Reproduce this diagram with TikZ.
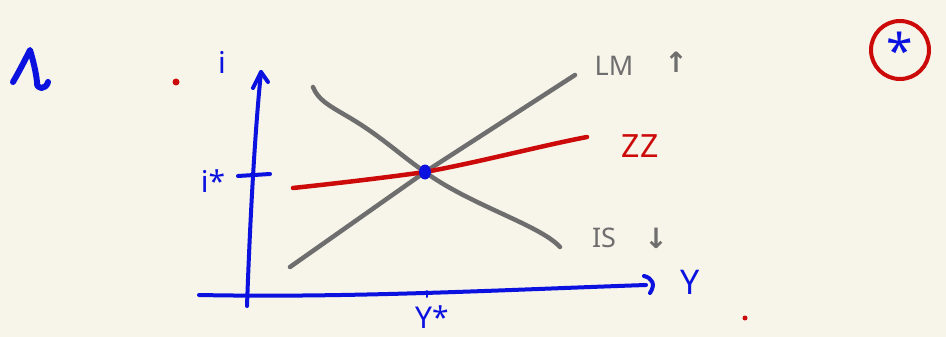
\documentclass[tikz,border=0pt]{standalone}
\usepackage{fontspec}
\setmainfont{Noto Sans}
\newfontfamily\symfont{DejaVu Sans}
\begin{document}
\begin{tikzpicture}[x=1pt,y=-1pt,line cap=round,line join=round,
  bluepen/.style={draw=penblue,line width=4pt},
  graypen/.style={draw=pengray,line width=4.5pt},
  redpen/.style={draw=penred,line width=4.5pt},
  bluetxt/.style={text=penblue,inner sep=0pt,font=\fontsize{30}{30}\selectfont},
  graytxt/.style={text=pengray,inner sep=0pt,font=\bfseries\fontsize{27}{27}\selectfont},
  grayarr/.style={text=pengray,inner sep=0pt,font=\symfont\bfseries\fontsize{28}{28}\selectfont},
  redtxt/.style={text=penred,inner sep=0pt,font=\bfseries\fontsize{32}{32}\selectfont}]
\definecolor{bg}{HTML}{F7F4E9}
\definecolor{penblue}{HTML}{0B12E0}
\definecolor{pengray}{HTML}{6E6E6E}
\definecolor{penred}{HTML}{CC0A0A}
\fill[bg] (0,0) rectangle (946,337);
\useasboundingbox (0,0) rectangle (946,337);
% top-left mark
\draw[bluepen,line width=6pt] (13,82) .. controls (20,70) and (26,58) .. (30,50) .. controls (33,60) and (36,72) .. (37,82) .. controls (36,90) and (46,90) .. (48,82);
% red dots
\fill[penred] (176,82) circle (3.5pt);
\fill[penred] (745,318) circle (2.5pt);
% axes
\coordinate (yb) at (247,306);
\coordinate (yt) at (261,72);
\coordinate (xl) at (199,295);
\coordinate (xr) at (646,285);
\draw[bluepen] (yb) .. controls (250,220) and (255,130) .. (yt);
\draw[bluepen] (253,88) -- (yt) -- (268,82);
\draw[bluepen] (xl) .. controls (350,298) and (500,290) .. (xr);
\draw[bluepen] (644,276) .. controls (652,278) and (656,284) .. (650,293);
\node[bluetxt] (ylab) at (222,62) {i};
\node[bluetxt,font=\fontsize{34}{34}\selectfont] (xlab) at (690,282) {Y};
% ticks
\coordinate (itl) at (238,176);
\coordinate (itr) at (270,174);
\draw[bluepen] (itl) -- (itr);
\node[bluetxt] (istar) at (213,181) {i*};
\coordinate (yst) at (427,291);
\coordinate (ysb) at (427,297);
\draw[bluepen,line width=2pt] (yst) -- (ysb);
\node[bluetxt,anchor=north] (ystar) at (432,305) {Y*};
% curves
\coordinate (lm1) at (290,267);
\coordinate (lm2) at (575,75);
\coordinate (is1) at (313,87);
\coordinate (is2) at (560,247);
\coordinate (zz1) at (293,188);
\coordinate (zz2) at (587,137);
\coordinate (eq) at (425,172);
\draw[graypen] (lm1) -- (eq) -- (lm2);
\draw[graypen] (is1) .. controls (318,100) and (330,106) .. (345,115) .. controls (380,135) and (400,155) .. (eq) .. controls (470,205) and (540,225) .. (is2);
\draw[redpen] (zz1) .. controls (340,183) and (390,177) .. (eq) .. controls (480,162) and (540,146) .. (zz2);
\fill[penblue] (eq) ellipse (6pt and 7.5pt);
% labels
\node[graytxt] (lmlab) at (614,66) {LM};
\node[grayarr] (lmarr) at (676,62) {↑};
\node[redtxt] (zzlab) at (640,146) {ZZ};
\node[graytxt] (islab) at (604,238) {IS};
\node[grayarr] (isarr) at (656,238) {↓};
% circled star
\node[draw=penred,line width=4pt,circle,minimum size=58pt,inner sep=0pt,text=penblue,font=\bfseries\fontsize{48}{48}\selectfont] (star) at (900,50) {\raisebox{-15pt}{*}};
\end{tikzpicture}
\end{document}
